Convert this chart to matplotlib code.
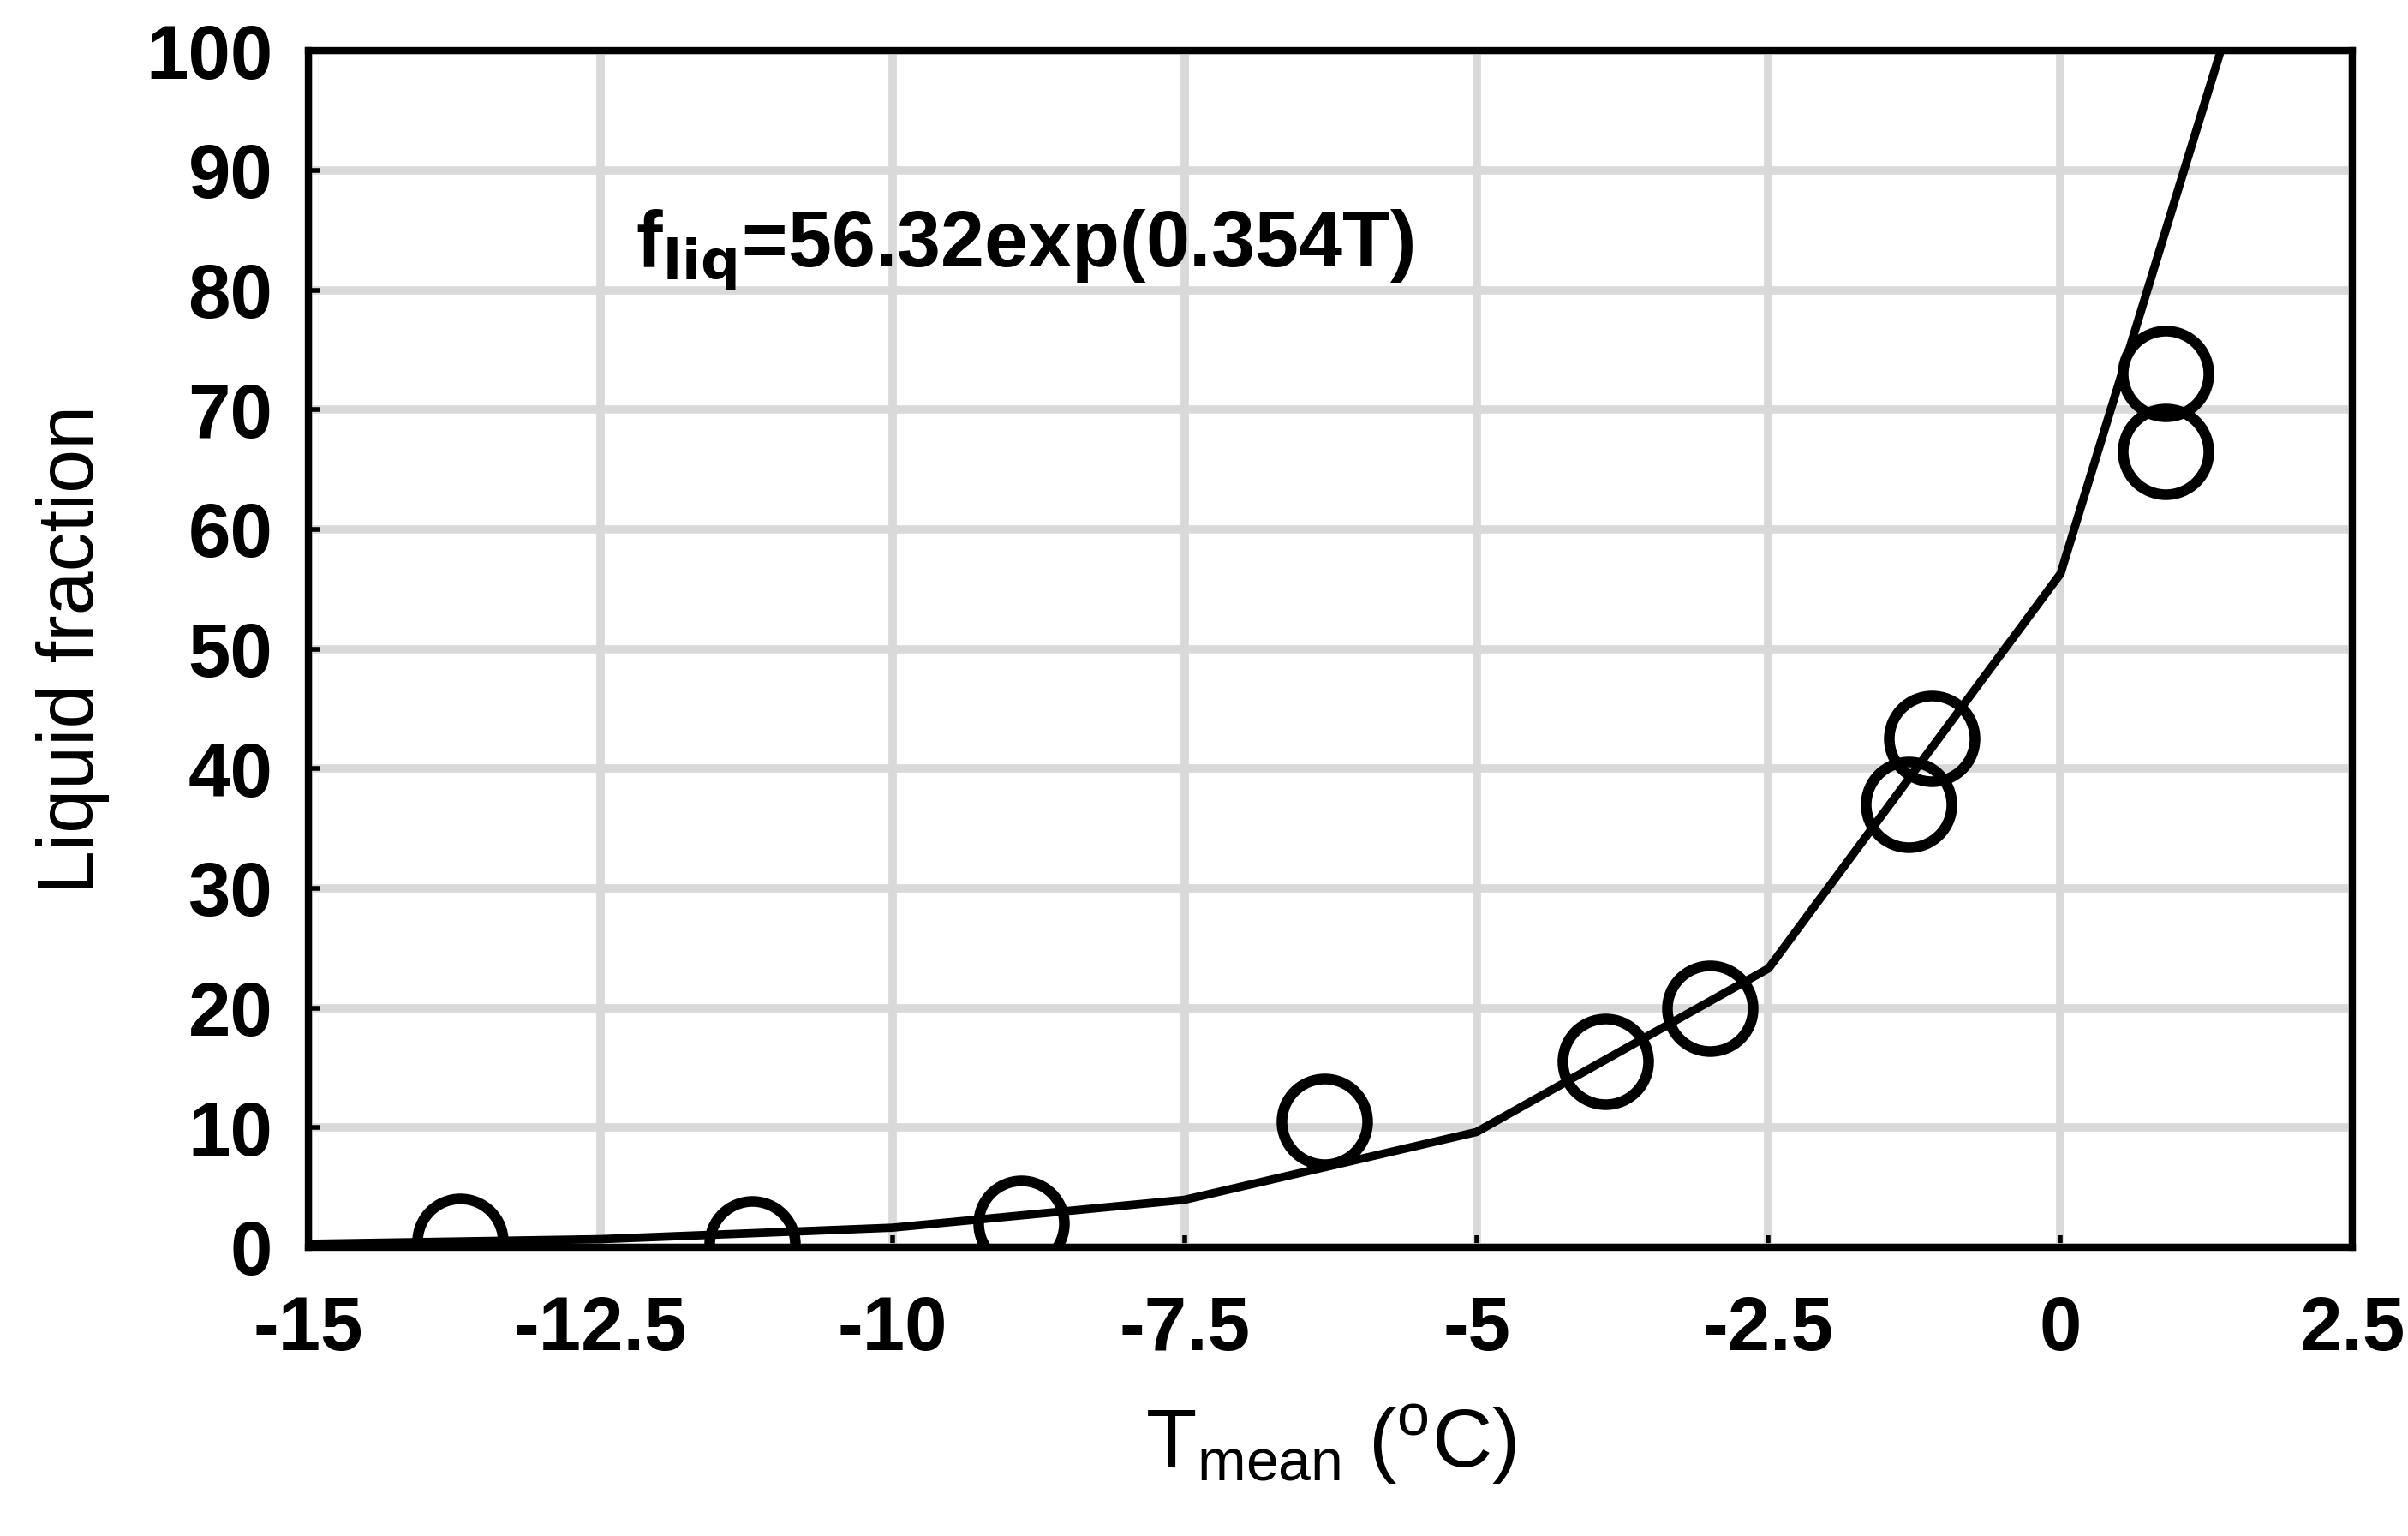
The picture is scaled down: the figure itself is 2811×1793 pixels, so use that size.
import matplotlib
matplotlib.use("Agg")
import matplotlib.pyplot as plt

obs_T = [-13.7, -11.2, -8.9, -6.3, -3.9, -3.0, -1.3, -1.1, 0.9, 0.9]
obs_f = [0.5, 0.3, 2.0, 10.5, 15.5, 20.0, 37.0, 42.5, 73.0, 66.5]
fit_T = [-15, -12.5, -10, -7.5, -5, -2.5, 0, 2.5]
fit_f = [0.28, 0.67, 1.63, 3.96, 9.63, 23.3, 56.3, 136.0]
xticks = [-15, -12.5, -10, -7.5, -5, -2.5, 0, 2.5]
xticklabels = ["-15", "-12.5", "-10", "-7.5", "-5", "-2.5", "0", "2.5"]
yticks = list(range(0, 101, 10))

plt.rcParams['font.family'] = ['Liberation Sans', 'DejaVu Sans']
fig = plt.figure(figsize=(28.11, 17.93), dpi=100)
ax = fig.add_axes([0.128, 0.188, 0.849, 0.779])
ax.plot(fit_T, fit_f, color='black', lw=7, zorder=3)
ax.plot(obs_T, obs_f, 'o', mfc='none', mec='black', ms=72, mew=9, zorder=4)
ax.set_xlim(-15, 2.5)
ax.set_ylim(0, 100)
ax.set_xticks(xticks)
ax.set_xticklabels(xticklabels)
ax.set_yticks(yticks)
ax.grid(True, color='#d9d9d9', lw=7)
ax.set_axisbelow(True)
for s in ax.spines.values():
    s.set_linewidth(6)
ax.tick_params(labelsize=64, width=4, length=10, direction='in')
ax.tick_params(axis='x', pad=40)
ax.tick_params(axis='y', pad=30)
for lab in ax.get_xticklabels() + ax.get_yticklabels():
    lab.set_fontweight('bold')
ax.set_ylabel('Liquid fraction', fontsize=66, labelpad=30)
ax.set_xlabel(r'T$_{\mathregular{mean}}$ ($^{\mathregular{o}}$C)', fontsize=70, labelpad=30)
ax.text(-12.2, 82, r'f$_{\mathbf{liq}}$=56.32exp(0.354T)', fontsize=66, fontweight='bold')
fig.savefig('out.png', dpi=100)
